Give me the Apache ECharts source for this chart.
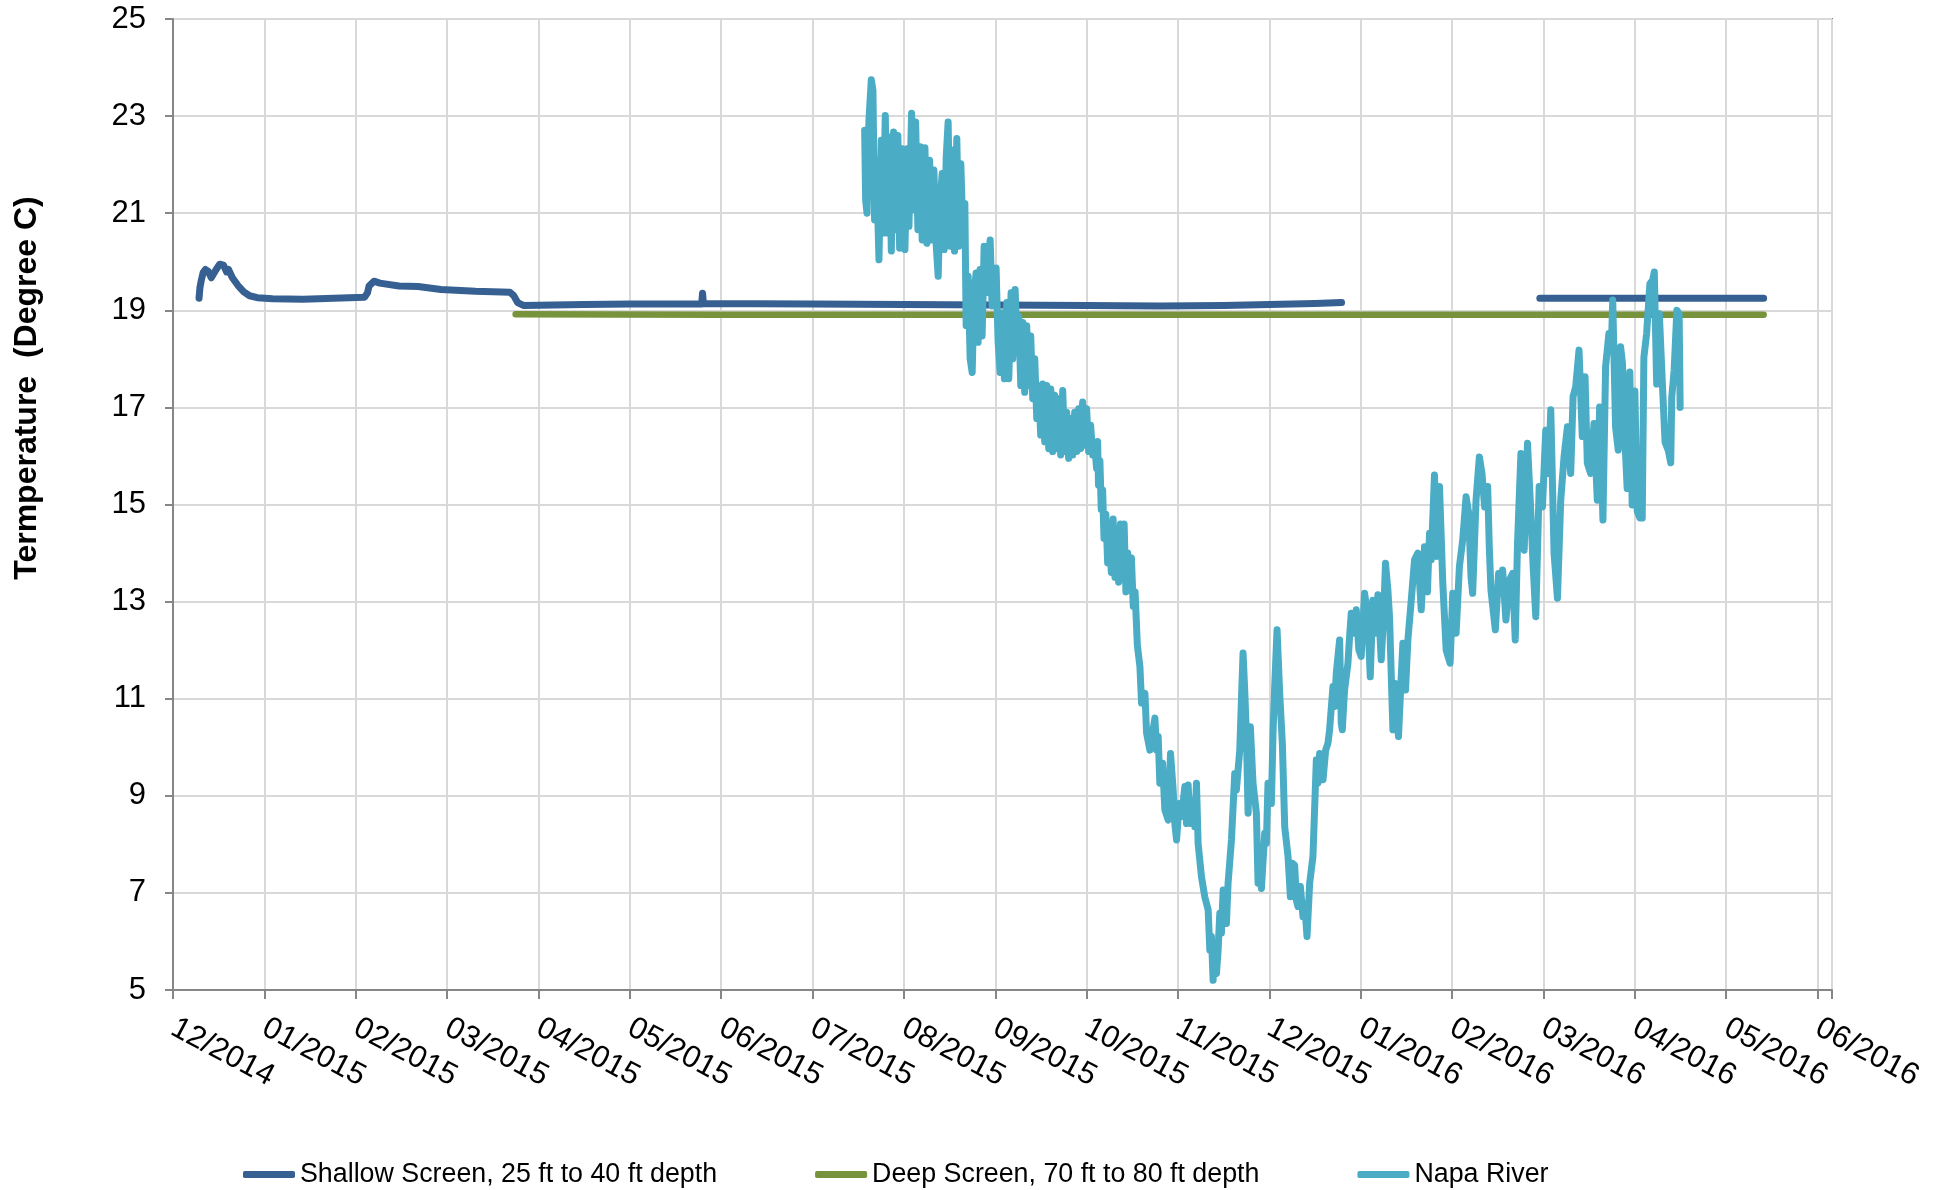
<!DOCTYPE html>
<html>
<head>
<meta charset="utf-8">
<title>Temperature - Shallow / Deep Screen and Napa River</title>
<script src="https://cdn.jsdelivr.net/npm/echarts@6/dist/echarts.min.js"></script>
<style>
  html, body { margin: 0; padding: 0; background: #fff; }
  #chart { width: 1950px; height: 1190px; }
</style>
</head>
<body>
<div id="chart"></div>
<script>
// x values are months counted from 1 Dec 2014 (0 = 12/2014, 1 = 01/2015 ...)
const monthLabels = [
  '12/2014', '01/2015', '02/2015', '03/2015', '04/2015', '05/2015', '06/2015',
  '07/2015', '08/2015', '09/2015', '10/2015', '11/2015', '12/2015', '01/2016',
  '02/2016', '03/2016', '04/2016', '05/2016', '06/2016',
]

const seriesNames = [
  'Shallow Screen, 25 ft to 40 ft depth',
  'Deep Screen, 70 ft to 80 ft depth',
  'Napa River',
]

// [month, degree C]
const shallow = [
  [0.285, 19.25], [0.295, 19.47], [0.31, 19.62], [0.33, 19.78], [0.356, 19.84],
  [0.386, 19.8], [0.419, 19.67], [0.44, 19.63], [0.469, 19.83], [0.511, 19.95],
  [0.553, 19.93], [0.587, 19.79], [0.608, 19.84], [0.65, 19.67], [0.712, 19.51],
  [0.775, 19.38], [0.838, 19.3], [0.922, 19.26], [1.09, 19.24], [1.425, 19.23],
  [1.76, 19.25], [2.096, 19.27], [2.129, 19.36], [2.146, 19.5], [2.2, 19.6],
  [2.263, 19.56], [2.473, 19.5], [2.682, 19.49], [2.934, 19.43], [3.311, 19.39],
  [3.688, 19.37], [3.73, 19.3], [3.772, 19.16], [3.835, 19.1], [4.5, 19.12],
  [5.0, 19.13], [5.786, 19.13], [5.796, 19.35], [5.806, 19.14], [7.0, 19.13],
  [8.0, 19.12], [9.0, 19.11], [10.0, 19.1], [10.8, 19.09], [10.81, 19.05],
  [10.82, 19.09], [11.5, 19.1], [12.0, 19.12], [12.5, 19.14], [12.79, 19.16],
  [13.9, null],
  [14.96, 19.25], [15.5, 19.25], [16.0, 19.25], [16.7, 19.25], [17.41, 19.25],
]

const deep = [
  [3.75, 18.92], [6.0, 18.91], [9.0, 18.91], [12.0, 18.91], [15.0, 18.91], [17.41, 18.91],
]

const napa = [
  [7.570, 22.71], [7.581, 21.27], [7.596, 21.00], [7.617, 22.91], [7.643, 23.75],
  [7.661, 23.53], [7.679, 20.86], [7.698, 22.09], [7.727, 20.04], [7.752, 22.50],
  [7.770, 20.59], [7.796, 23.01], [7.818, 20.59], [7.843, 22.57], [7.862, 20.22],
  [7.887, 22.67], [7.909, 20.66], [7.934, 22.60], [7.953, 20.28], [7.982, 22.33],
  [8.011, 20.25], [8.036, 22.33], [8.055, 20.73], [8.084, 23.06], [8.106, 21.07],
  [8.128, 22.88], [8.153, 20.66], [8.179, 22.37], [8.200, 20.45], [8.230, 22.35],
  [8.251, 20.38], [8.281, 22.09], [8.306, 20.45], [8.328, 21.89], [8.354, 20.32],
  [8.375, 19.70], [8.397, 21.27], [8.419, 21.82], [8.441, 20.25], [8.463, 22.16],
  [8.484, 22.88], [8.506, 20.32], [8.528, 22.30], [8.554, 20.22], [8.579, 22.54],
  [8.601, 20.32], [8.623, 22.02], [8.645, 20.59], [8.667, 21.20], [8.681, 18.68],
  [8.703, 19.70], [8.725, 18.00], [8.747, 17.72], [8.769, 19.36], [8.790, 19.77],
  [8.812, 18.34], [8.834, 19.84], [8.856, 18.47], [8.878, 20.32], [8.900, 19.36],
  [8.922, 20.04], [8.944, 20.45], [8.965, 19.09], [8.987, 19.16], [9.009, 19.87],
  [9.031, 18.34], [9.053, 17.72], [9.075, 18.95], [9.100, 17.59], [9.126, 19.16],
  [9.148, 17.59], [9.173, 19.36], [9.191, 18.00], [9.217, 19.43], [9.239, 18.27],
  [9.257, 18.88], [9.279, 17.45], [9.301, 18.75], [9.322, 17.31], [9.344, 18.68],
  [9.366, 17.45], [9.388, 18.47], [9.410, 17.18], [9.432, 18.00], [9.454, 16.77],
  [9.476, 17.45], [9.497, 16.43], [9.519, 17.48], [9.541, 16.29], [9.563, 17.45],
  [9.585, 16.15], [9.607, 17.38], [9.628, 16.09], [9.650, 17.25], [9.672, 16.15],
  [9.694, 17.18], [9.716, 16.02], [9.738, 17.35], [9.760, 16.09], [9.781, 16.90],
  [9.803, 15.95], [9.825, 16.77], [9.847, 16.02], [9.869, 16.90], [9.891, 16.09],
  [9.913, 16.97], [9.934, 16.15], [9.956, 17.11], [9.978, 16.22], [10.000, 16.97],
  [10.022, 16.09], [10.044, 16.63], [10.066, 16.02], [10.087, 16.22], [10.109, 15.74],
  [10.12, 16.3], [10.13, 15.4], [10.145, 15.9], [10.16, 14.9], [10.175, 15.3],
  [10.19, 14.3], [10.21, 14.8], [10.23, 13.8], [10.25, 14.5], [10.27, 13.6],
  [10.29, 14.7], [10.31, 13.5], [10.33, 14.2], [10.35, 13.4], [10.37, 14.6],
  [10.39, 13.5], [10.41, 14.6], [10.43, 13.2], [10.45, 14.0], [10.47, 13.3],
  [10.49, 13.9], [10.51, 12.9], [10.53, 13.2], [10.555, 12.1],
  [10.583, 11.66], [10.601, 10.91], [10.638, 11.11], [10.656, 10.29], [10.692, 9.94],
  [10.747, 10.60], [10.765, 9.94], [10.783, 10.22], [10.801, 9.26], [10.831, 9.67],
  [10.856, 8.71], [10.893, 8.50], [10.918, 9.87], [10.947, 9.12], [10.965, 8.43],
  [10.984, 8.09], [11.013, 8.84], [11.038, 8.57], [11.075, 9.19], [11.093, 8.43],
  [11.111, 9.22], [11.129, 8.43], [11.166, 8.91], [11.184, 8.36], [11.202, 9.26],
  [11.220, 8.02], [11.257, 7.33], [11.293, 6.92], [11.330, 6.65], [11.348, 5.82],
  [11.366, 6.10], [11.384, 5.20], [11.403, 5.82], [11.421, 5.34], [11.439, 5.82],
  [11.457, 6.58], [11.475, 6.17], [11.494, 7.06], [11.530, 6.37], [11.548, 7.20],
  [11.585, 8.09], [11.621, 9.46], [11.639, 9.12], [11.676, 9.94], [11.694, 10.97],
  [11.712, 11.94], [11.730, 11.18], [11.749, 10.22], [11.767, 8.64], [11.792, 10.42],
  [11.821, 9.26], [11.858, 8.64], [11.876, 7.20], [11.894, 7.61], [11.913, 7.09],
  [11.949, 8.23], [11.967, 8.02], [11.985, 9.26], [12.022, 8.84], [12.040, 10.29],
  [12.058, 11.25], [12.084, 12.42], [12.113, 11.11], [12.142, 10.08], [12.168, 8.36],
  [12.204, 7.75], [12.230, 6.92], [12.251, 7.61], [12.277, 7.57], [12.295, 6.85],
  [12.313, 6.72], [12.339, 7.13], [12.368, 6.51], [12.386, 6.78], [12.412, 6.10],
  [12.441, 7.20], [12.477, 7.75], [12.514, 9.74], [12.532, 9.26], [12.550, 9.87],
  [12.587, 9.33], [12.616, 9.94], [12.641, 10.08], [12.659, 10.36], [12.696, 11.25],
  [12.714, 10.84], [12.732, 11.52], [12.769, 12.21], [12.787, 10.49], [12.798, 10.36],
  [12.823, 11.18], [12.860, 11.73], [12.878, 12.28], [12.896, 12.76], [12.933, 12.35],
  [12.951, 12.83], [12.980, 12.00], [13.005, 11.87], [13.042, 13.17], [13.078, 12.69],
  [13.104, 11.45], [13.133, 13.03], [13.162, 12.35], [13.188, 13.14], [13.224, 11.80],
  [13.250, 12.69], [13.271, 13.79], [13.297, 13.24], [13.315, 12.69], [13.352, 10.36],
  [13.370, 11.32], [13.388, 11.32], [13.413, 10.22], [13.443, 11.45], [13.461, 12.14],
  [13.490, 11.18], [13.516, 12.21],
  [13.553, 13.03], [13.589, 13.86], [13.625, 14.00], [13.662, 12.83], [13.698, 14.13],
  [13.730, 13.20], [13.753, 14.41], [13.771, 13.86], [13.807, 15.61], [13.833, 13.93],
  [13.862, 15.37], [13.898, 13.38], [13.935, 12.00], [13.978, 11.73], [14.007, 13.17],
  [14.044, 12.35], [14.080, 13.72], [14.116, 14.27], [14.153, 15.16], [14.182, 14.82],
  [14.207, 13.51], [14.225, 13.17], [14.262, 15.09], [14.298, 15.98], [14.327, 15.64],
  [14.356, 14.95], [14.389, 15.37], [14.407, 14.13], [14.425, 13.24], [14.473, 12.42],
  [14.509, 13.58], [14.535, 13.17], [14.553, 13.65], [14.589, 12.62], [14.625, 13.44],
  [14.662, 13.58], [14.691, 12.21], [14.716, 14.20], [14.753, 16.05], [14.789, 14.06],
  [14.825, 16.26], [14.862, 14.82], [14.887, 13.72], [14.916, 12.69], [14.953, 15.37],
  [14.989, 14.95], [15.025, 16.53], [15.055, 15.64], [15.080, 16.95], [15.116, 13.99],
  [15.153, 13.07], [15.189, 15.09], [15.225, 15.98], [15.262, 16.60], [15.298, 15.64],
  [15.324, 17.22], [15.353, 17.43], [15.389, 18.18], [15.425, 16.40], [15.455, 17.63],
  [15.480, 15.85], [15.516, 15.64], [15.553, 16.67], [15.589, 15.09], [15.615, 17.01],
  [15.651, 14.68], [15.680, 17.84], [15.716, 18.52], [15.743, 18.24], [15.758, 19.21],
  [15.789, 16.60], [15.818, 16.12], [15.844, 18.25], [15.865, 17.90], [15.880, 16.80],
  [15.916, 15.33], [15.945, 17.73], [15.971, 14.99], [16.000, 17.34], [16.026, 14.86],
  [16.055, 14.72], [16.081, 14.72], [16.099, 18.03], [16.129, 18.52], [16.165, 19.55],
  [16.195, 19.62], [16.213, 19.79], [16.239, 17.48], [16.268, 18.93], [16.305, 17.34],
  [16.331, 16.28], [16.368, 16.10], [16.393, 15.86], [16.404, 17.21], [16.430, 17.76],
  [16.460, 19.00], [16.485, 18.93], [16.496, 17.00],
]

const colors = ['#376092', '#77933c', '#4bacc6']
const fontFamily = "'Liberation Sans', Arial, sans-serif"

const chart = echarts.init(document.getElementById('chart'))

const axisGray = '#868686'
const gridGray = '#d9d9d9'

const option = {
  animation: false,
  backgroundColor: '#fff',
  textStyle: { fontFamily },
  grid: {
    left: 173,
    right: 118,
    top: 19,
    bottom: 200,
    show: true,
    borderColor: axisGray,
    borderWidth: 2,
    outerBoundsMode: 'none',
  },
  graphic: [
    {
      type: 'text',
      x: 27,
      y: 388,
      rotation: Math.PI / 2,
      style: {
        text: 'Termperature  (Degree C)',
        fontFamily,
        fontSize: 32,
        fontWeight: 'bold',
        fill: '#000',
        align: 'center',
        verticalAlign: 'middle',
      },
    },
  ],
  legend: {
    left: 238,
    top: 1156,
    itemWidth: 52,
    itemHeight: 7,
    itemGap: 98,
    icon: 'roundRect',
    data: seriesNames,
    textStyle: { fontSize: 26.8, color: '#000', fontFamily },
  },
  xAxis: {
    type: 'value',
    min: 0,
    max: 18.158,
    interval: 1,
    axisLine: { show: true, lineStyle: { color: axisGray, width: 2 } },
    axisTick: { show: true, length: 9, lineStyle: { color: axisGray, width: 2 } },
    splitLine: { show: true, lineStyle: { color: gridGray, width: 2 } },
    axisLabel: {
      rotate: -28,
      margin: 36,
      fontSize: 31,
      color: '#000',
      fontFamily,
      formatter: (v) => {
        const k = Math.round(v)
        return Math.abs(v - k) < 1e-6 && monthLabels[k] ? monthLabels[k] : ''
      },
    },
  },
  yAxis: {
    type: 'value',
    min: 5,
    max: 25,
    interval: 2,
    axisLine: { show: true, lineStyle: { color: axisGray, width: 2 } },
    axisTick: { show: true, length: 8, lineStyle: { color: axisGray, width: 2 } },
    splitLine: { show: true, lineStyle: { color: gridGray, width: 2 } },
    axisLabel: { margin: 27, fontSize: 31, color: '#000', fontFamily },
  },
  series: [
    {
      name: seriesNames[0],
      type: 'line',
      data: shallow,
      showSymbol: false,
      color: colors[0],
      lineStyle: { width: 7, color: colors[0], cap: 'round', join: 'round' },
    },
    {
      name: seriesNames[1],
      type: 'line',
      data: deep,
      showSymbol: false,
      color: colors[1],
      lineStyle: { width: 6.5, color: colors[1], cap: 'round', join: 'round' },
    },
    {
      name: seriesNames[2],
      type: 'line',
      data: napa,
      showSymbol: false,
      color: colors[2],
      lineStyle: { width: 7, color: colors[2], cap: 'round', join: 'round' },
    },
  ],
}

chart.setOption(option)
</script>
</body>
</html>
